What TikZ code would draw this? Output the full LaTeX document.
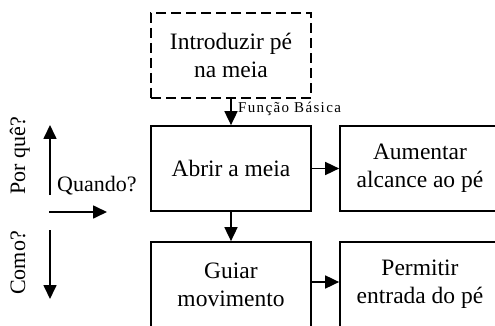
\documentclass[tikz,border=0pt]{standalone}
\usepackage{fontspec}
\setmainfont{Liberation Serif}
\usetikzlibrary{arrows.meta}
\begin{document}
\begin{tikzpicture}[x=1pt,y=-1pt,
  box/.style={draw,line width=1.7pt,minimum width=160pt,minimum height=85pt,inner sep=0pt,align=center,
    font=\fontsize{23.5}{28}\selectfont},
  dbox/.style={box,dash pattern=on 10pt off 5pt},
  arr/.style={line width=1.7pt,-{Triangle[length=14pt,width=13pt]}},
  lbl/.style={font=\fontsize{22}{28}\selectfont,inner sep=0pt}]
\useasboundingbox (0,0) rectangle (495,326);
\begin{scope}
\clip (0,0) rectangle (495,326);
\node[dbox] (intro) at (231,55.5) {Introduzir pé\\na meia};
\node[box] (abrir) at (231,168.5) {Abrir a meia};
\node[box] (aument) at (420,168.5) {Aumentar\\alcance ao pé};
\node[box] (guiar) at (231,284.5) {Guiar\\movimento};
\node[box] (permit) at (420,284.5) {Permitir\\entrada do pé};
\end{scope}
\draw[arr] (intro) -- (abrir);
\draw[arr] (abrir) -- (guiar);
\draw[arr] (abrir) -- (aument);
\draw[arr] (guiar.east |- 0,282) -- (permit.west |- 0,282);
\node[anchor=base west,inner sep=0pt,font=\fontsize{15}{16}\selectfont\addfontfeature{LetterSpace=9}] (fb) at (238,113) {Função Básica};
\coordinate (ua) at (50,195);
\coordinate (ub) at (50,125);
\coordinate (ra) at (49,212);
\coordinate (rb) at (107,212);
\coordinate (da) at (50,230);
\coordinate (db) at (50,299);
\draw[arr] (ua) -- (ub);
\draw[arr] (ra) -- (rb);
\draw[arr] (da) -- (db);
\node[lbl,rotate=90,anchor=base] (pq) at (25,156) {Por quê?};
\node[lbl,rotate=90,anchor=base] (como) at (25,263) {Como?};
\node[lbl,anchor=base west] (quando) at (57,191) {Quando?};
\end{tikzpicture}
\end{document}
